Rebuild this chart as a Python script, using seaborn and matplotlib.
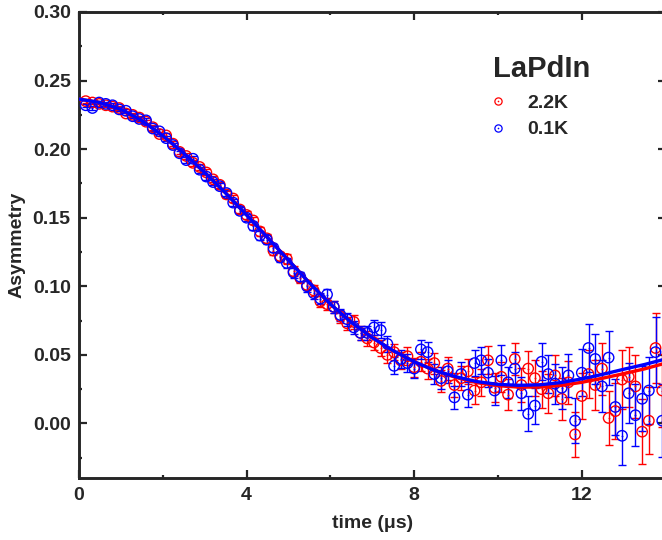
import matplotlib
matplotlib.use("Agg")
import matplotlib.pyplot as plt
import seaborn as sns
import pandas as pd
from matplotlib.ticker import MultipleLocator, FormatStrFormatter
from matplotlib.lines import Line2D

# ---------------- data ----------------
time_us = [0.16, 0.32, 0.48, 0.64, 0.80, 0.96, 1.12, 1.28, 1.44, 1.60,
           1.76, 1.92, 2.08, 2.24, 2.40, 2.56, 2.72, 2.88, 3.04, 3.20,
           3.36, 3.52, 3.68, 3.84, 4.00, 4.16, 4.32, 4.48, 4.64, 4.80,
           4.96, 5.12, 5.28, 5.44, 5.60, 5.76, 5.92, 6.08, 6.24, 6.40,
           6.56, 6.72, 6.88, 7.04, 7.20, 7.36, 7.52, 7.68, 7.84, 8.00,
           8.16, 8.32, 8.48, 8.64, 8.80, 8.96, 9.12, 9.28, 9.44, 9.60,
           9.76, 9.92, 10.08, 10.24, 10.40, 10.56, 10.72, 10.88, 11.04, 11.20,
           11.36, 11.52, 11.68, 11.84, 12.00, 12.16, 12.32, 12.48, 12.64, 12.80,
           12.96, 13.12, 13.28, 13.44, 13.60, 13.76, 13.92]

asym_22K = [0.235, 0.234, 0.233, 0.232, 0.231, 0.230, 0.226, 0.225, 0.223, 0.220,
            0.216, 0.211, 0.210, 0.204, 0.198, 0.195, 0.190, 0.187, 0.183, 0.178,
            0.174, 0.167, 0.164, 0.156, 0.152, 0.148, 0.140, 0.135, 0.126, 0.122,
            0.120, 0.111, 0.106, 0.101, 0.097, 0.089, 0.087, 0.085, 0.078, 0.073,
            0.074, 0.066, 0.062, 0.059, 0.055, 0.050, 0.052, 0.046, 0.049, 0.041,
            0.045, 0.040, 0.044, 0.031, 0.040, 0.028, 0.033, 0.038, 0.024, 0.030,
            0.046, 0.026, 0.034, 0.021, 0.047, 0.028, 0.040, 0.033, 0.025, 0.022,
            0.035, 0.018, 0.030, -0.008, 0.020, 0.036, 0.028, 0.040, 0.004, 0.009,
            0.032, 0.034, 0.027, -0.006, 0.002, 0.055, 0.024]

asym_01K = [0.232, 0.230, 0.234, 0.233, 0.232, 0.229, 0.228, 0.224, 0.222, 0.221,
            0.215, 0.213, 0.208, 0.203, 0.197, 0.192, 0.193, 0.185, 0.180, 0.176,
            0.173, 0.168, 0.161, 0.155, 0.150, 0.144, 0.137, 0.134, 0.128, 0.121,
            0.117, 0.110, 0.107, 0.100, 0.095, 0.091, 0.094, 0.085, 0.079, 0.076,
            0.070, 0.066, 0.066, 0.070, 0.068, 0.058, 0.042, 0.047, 0.044, 0.040,
            0.054, 0.052, 0.036, 0.033, 0.038, 0.019, 0.036, 0.021, 0.044, 0.046,
            0.037, 0.024, 0.046, 0.030, 0.040, 0.022, 0.007, 0.013, 0.045, 0.036,
            0.029, 0.026, 0.035, 0.002, 0.037, 0.055, 0.047, 0.027, 0.048, 0.012,
            -0.009, 0.022, 0.006, 0.018, 0.024, 0.052, 0.002]

asym_err = [0.0011, 0.0012, 0.0012, 0.0013, 0.0013, 0.0014, 0.0014, 0.0015, 0.0015, 0.0016,
            0.0017, 0.0017, 0.0018, 0.0018, 0.0019, 0.0020, 0.0020, 0.0021, 0.0022, 0.0023,
            0.0024, 0.0025, 0.0025, 0.0026, 0.0027, 0.0028, 0.0030, 0.0031, 0.0032, 0.0033,
            0.0034, 0.0036, 0.0037, 0.0038, 0.0040, 0.0041, 0.0043, 0.0044, 0.0046, 0.0048,
            0.0049, 0.0051, 0.0053, 0.0055, 0.0057, 0.0059, 0.0061, 0.0063, 0.0066, 0.0068,
            0.0071, 0.0073, 0.0076, 0.0079, 0.0082, 0.0085, 0.0088, 0.0091, 0.0095, 0.0098,
            0.0102, 0.0106, 0.0110, 0.0114, 0.0118, 0.0122, 0.0127, 0.0132, 0.0136, 0.0141,
            0.0147, 0.0152, 0.0158, 0.0164, 0.0170, 0.0176, 0.0183, 0.0190, 0.0197, 0.0204,
            0.0212, 0.0220, 0.0228, 0.0236, 0.0245, 0.0254, 0.0264]

fit_time = [0.0, 0.5, 1.0, 1.5, 2.0, 2.5, 3.0, 3.5, 4.0, 4.5,
            5.0, 5.5, 6.0, 6.5, 7.0, 7.5, 8.0, 8.5, 9.0, 9.5,
            10.0, 10.5, 11.0, 11.5, 12.0, 12.5, 13.0, 13.5, 14.0]
fit_01K = [0.2365, 0.2340, 0.2290, 0.2208, 0.2098, 0.1970, 0.1830, 0.1680, 0.1520, 0.1355,
           0.1190, 0.1025, 0.0870, 0.0737, 0.0625, 0.0530, 0.0450, 0.0385, 0.0340, 0.0305,
           0.0285, 0.0278, 0.0282, 0.0298, 0.0325, 0.0358, 0.0395, 0.0430, 0.0470]
fit_22K = [0.2365, 0.2340, 0.2290, 0.2208, 0.2098, 0.1970, 0.1830, 0.1680, 0.1520, 0.1355,
           0.1190, 0.1025, 0.0870, 0.0737, 0.0625, 0.0530, 0.0450, 0.0385, 0.0335, 0.0297,
           0.0275, 0.0265, 0.0265, 0.0277, 0.0300, 0.0330, 0.0363, 0.0398, 0.0440]

series_labels = ["2.2K", "0.1K"]
legend_title = "LaPdIn"
RED, BLUE = "#ff0000", "#0000ff"

# ---------------- style ----------------
sns.set_style("ticks")
plt.rcParams["font.family"] = ["Liberation Sans", "DejaVu Sans"]
plt.rcParams["font.weight"] = "bold"
plt.rcParams["axes.labelweight"] = "bold"

fig = plt.figure(figsize=(6.62, 5.40), dpi=100)
W, H = 662.0, 540.0
x0, x1, y0, y1 = 79.0, 665.6, 12.0, 478.3
ax = fig.add_axes([x0 / W, 1 - y1 / H, (x1 - x0) / W, (y1 - y0) / H])

data = pd.DataFrame({"t": time_us, "a22": asym_22K, "a01": asym_01K, "err": asym_err})
fits = pd.DataFrame({"t": fit_time, "f22": fit_22K, "f01": fit_01K})

for col, c in (("a22", RED), ("a01", BLUE)):
    ax.errorbar(data["t"], data[col], yerr=data["err"], fmt="none", ecolor=c,
                elinewidth=1.0, capsize=3.0, capthick=1.0, zorder=2)
    sns.scatterplot(data=data, x="t", y=col, ax=ax, marker="o", s=56,
                    facecolor="none", edgecolor=c, linewidth=1.0, zorder=3, legend=False)
    sns.scatterplot(data=data, x="t", y=col, ax=ax, marker="o", s=1.8,
                    color=c, linewidth=0, zorder=3, legend=False)

sns.lineplot(data=fits, x="t", y="f22", ax=ax, color=RED, linewidth=2.4, zorder=4)
sns.lineplot(data=fits, x="t", y="f01", ax=ax, color=BLUE, linewidth=2.4, zorder=5)

ax.set_xlim(0, 14)
ax.set_ylim(-0.04, 0.30)
ax.xaxis.set_major_locator(MultipleLocator(4))
ax.xaxis.set_minor_locator(MultipleLocator(2))
ax.yaxis.set_major_locator(MultipleLocator(0.05))
ax.yaxis.set_minor_locator(MultipleLocator(0.025))
ax.yaxis.set_major_formatter(FormatStrFormatter("%.2f"))
ax.xaxis.set_major_formatter(FormatStrFormatter("%d"))

for s in ax.spines.values():
    s.set_linewidth(2.1)
    s.set_visible(True)
ax.tick_params(which="major", direction="in", length=6, width=1.6,
               top=True, right=True, labelsize=14, pad=6)
ax.tick_params(which="minor", direction="in", length=2.5, width=1.6,
               top=True, right=True)
for lab in ax.get_xticklabels() + ax.get_yticklabels():
    lab.set_fontweight("bold")

ax.set_xlabel("time (\u03bcs)", fontsize=14, fontweight="bold", labelpad=8)
ax.set_ylabel("Asymmetry", fontsize=14, fontweight="bold", labelpad=5)

# ---------------- legend (drawn as text + marker glyphs) ----------------
fig.text(492.5 / W, 1 - 76.7 / H, legend_title, fontsize=21, fontweight="bold",
         ha="left", va="baseline")
for (lab, c, ym, yb) in ((series_labels[0], RED, 101.0, 107.7),
                         (series_labels[1], BLUE, 128.3, 134.3)):
    fig.add_artist(Line2D([498.3 / W], [1 - ym / H], marker="o", markersize=5.2,
                          markerfacecolor="none", markeredgecolor=c,
                          markeredgewidth=0.9, linestyle="none"))
    fig.add_artist(Line2D([498.3 / W], [1 - ym / H], marker="o", markersize=1.2,
                          markerfacecolor=c, markeredgewidth=0, linestyle="none"))
    fig.text(527.0 / W, 1 - yb / H, lab, fontsize=14, fontweight="bold",
             ha="left", va="baseline")

fig.savefig("out.png", dpi=100)
